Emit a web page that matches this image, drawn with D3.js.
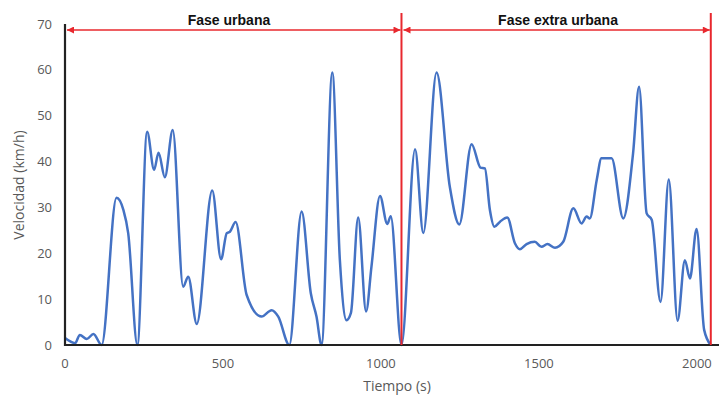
<!DOCTYPE html>
<html><head><meta charset="utf-8">
<script src="https://cdn.jsdelivr.net/npm/d3@7"></script>
<style>html,body{margin:0;padding:0;background:#fff;}svg{display:block;}</style>
</head><body>
<script>
// Data: time (s) and speed (km/h)
const tiempo = [0,32,47,69,90,116,163,185,200,229,260,282,296,316,341,374,390,417,466,494,512,522,540,575,622,654,675,710,749,778,796,812,846,870,891,905,928,953,970,997,1020,1031,1065,
1108,1134,1176,1218,1248,1287,1315,1329,1345,1359,1377,1400,1424,1440,1461,1487,1508,1527,1551,1577,1609,1635,1651,1661,1683,1698,1730,1767,1798,1817,1841,1857,1885,1911,1939,1962,1978,1999,2023,2044];
const velocidad = [1.5,0.4,2.2,1.3,2.4,0,32.1,29.4,24.4,0,46.5,38.2,41.9,36.6,46.9,12.7,14.9,4.6,33.7,18.7,24.4,24.7,26.8,10.9,6.2,7.6,6.2,0,29.1,11.3,6.2,0,59.4,18.5,5.4,7,27.8,7.3,17.1,32.5,26.4,28.1,0,
42.7,24.4,59.4,34.5,26.3,43.8,38.7,38.5,29.4,25.8,26.9,27.8,22.2,20.9,22,22.5,21.4,22,21.2,22.5,29.8,26.5,28,27.6,36,40.7,40.7,27.6,41.8,56.3,28.7,27.3,9.4,36.1,5.3,18.5,14.5,25.3,3.3,0];
const xTicks = [0,500,1000,1500,2000];
const yTicks = [0,10,20,30,40,50,60,70];
const fases = [{label:"Fase urbana", start:0, end:1065},{label:"Fase extra urbana", start:1065, end:2044}];
const xTitle = "Tiempo (s)";
const yTitle = "Velocidad (km/h)";

const W=719,H=397;
const x = d3.scaleLinear().domain([0,2070]).range([65,719]);
const y = d3.scaleLinear().domain([0,70]).range([345,24]);
const red = "#E8282E";
const gray = "#595959";

const svg = d3.select("body").append("svg").attr("width",W).attr("height",H);
const defs = svg.append("defs");
function marker(id, orient){
  defs.append("marker").attr("id",id).attr("viewBox","0 0 10 10").attr("refX",10).attr("refY",5)
    .attr("markerWidth",9).attr("markerHeight",7).attr("markerUnits","userSpaceOnUse").attr("orient",orient)
    .append("path").attr("d","M0,0 L10,5 L0,10 Z").attr("fill",red);
}
marker("arrEnd","auto");
marker("arrStart","auto-start-reverse");

// axis labels
svg.append("g").selectAll("text").data(yTicks).join("text")
  .attr("x",52).attr("y",d=>y(d)).attr("dy","0.35em").attr("text-anchor","end")
  .attr("font-family","'Open Sans',sans-serif").attr("font-size",13).attr("fill",gray).text(d=>d);
svg.append("g").selectAll("text").data(xTicks).join("text")
  .attr("x",d=>x(d)).attr("y",368).attr("text-anchor","middle")
  .attr("font-family","'Open Sans',sans-serif").attr("font-size",13).attr("fill",gray).text(d=>d);

svg.append("text").attr("x",397).attr("y",391).attr("text-anchor","middle")
  .attr("font-family","'Open Sans',sans-serif").attr("font-size",14).attr("fill",gray).text(xTitle);
svg.append("text").attr("transform","translate(24,185) rotate(-90)").attr("text-anchor","middle")
  .attr("font-family","'Open Sans',sans-serif").attr("font-size",14).attr("fill",gray).text(yTitle);

// line
const data = tiempo.map((t,i)=>({t, v:velocidad[i]}));
svg.append("path").datum(data)
  .attr("fill","none").attr("stroke","#4472C4").attr("stroke-width",2.5).attr("stroke-linejoin","round")
  .attr("d", d3.line().x(d=>x(d.t)).y(d=>y(d.v)).curve(d3.curveMonotoneX));

// axes lines
svg.append("line").attr("x1",x(0)).attr("x2",x(0)).attr("y1",y(70)).attr("y2",y(0)+1)
  .attr("stroke","#222").attr("stroke-width",2.2);
svg.append("line").attr("x1",x(0)-1).attr("x2",W).attr("y1",y(0)).attr("y2",y(0))
  .attr("stroke","#222").attr("stroke-width",2.2);

// phase markers
const boundaries = [fases[0].end, fases[1].end];
svg.append("g").selectAll("line").data(boundaries).join("line")
  .attr("x1",d=>x(d)).attr("x2",d=>x(d)).attr("y1",13).attr("y2",y(0))
  .attr("stroke",red).attr("stroke-width",2);
svg.append("g").selectAll("line").data(fases).join("line")
  .attr("x1",d=>x(d.start)+2).attr("x2",d=>x(d.end)-1).attr("y1",30).attr("y2",30)
  .attr("stroke",red).attr("stroke-width",1.5)
  .attr("marker-start","url(#arrStart)").attr("marker-end","url(#arrEnd)");
svg.append("g").selectAll("text").data(fases).join("text")
  .attr("x",(d,i)=> i===0 ? 229 : 558).attr("y",25).attr("text-anchor","middle")
  .attr("font-family","'Liberation Sans',Arial,sans-serif").attr("font-weight","bold").attr("font-size",14)
  .attr("fill","#111").text(d=>d.label);
</script>
</body></html>
